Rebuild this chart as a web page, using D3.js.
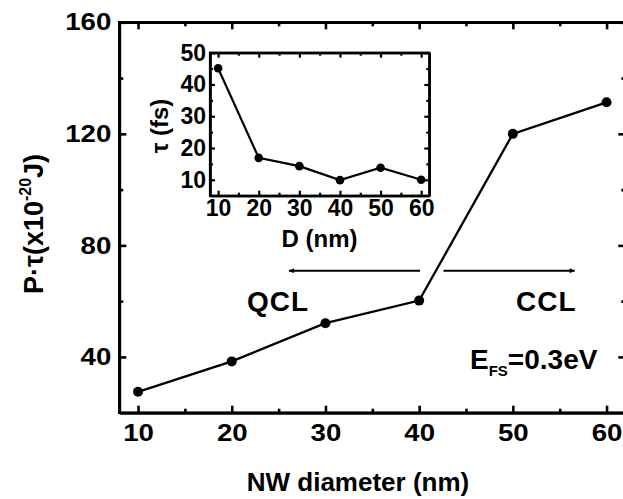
<!doctype html>
<html lang="en">
<head>
  <meta charset="utf-8">
  <style>
    body { margin: 0; background-color: white; }
    svg { display: block; background-color: white; }
    text { font-family: "Liberation Sans", Arial, sans-serif; font-weight: bold; fill: black; }
    .axis path, .axis line { stroke: black; }
    .axis text { font-family: "Liberation Sans", Arial, sans-serif; font-weight: bold; }
  </style>
</head>
<body>
<script src="https://d3js.org/d3.v7.min.js"></script>
<script>
var width = 623,
    height = 499;

// main plot: P*tau vs NW diameter
var diameters = [10, 20, 30, 40, 50, 60];
var ptau = [27.5, 38.4, 52.1, 60.2, 120, 131.3];
var xTicks = [10, 20, 30, 40, 50, 60];
var xMinor = [15, 25, 35, 45, 55];
var yTicks = [40, 80, 120, 160];
var yMinor = [60, 100, 140];

// inset: tau vs D
var insetD = [10, 20, 30, 40, 50, 60];
var tau = [45.1, 16.9, 14.3, 9.9, 13.8, 10];
var insetXTicks = [10, 20, 30, 40, 50, 60];
var insetXMinor = [15, 25, 35, 45, 55];
var insetYTicks = [10, 20, 30, 40, 50];
var insetYMinor = [15, 25, 35, 45];

var svg = d3.select("body").append("svg")
  .attr("width", width)
  .attr("height", height);

var x = d3.scaleLinear().domain([8, 62]).range([119.3, 625.3]);
var y = d3.scaleLinear().domain([20, 160]).range([412.7, 22.3]);

var main = svg.append("g");

function drawAxes(g, xs, ys, opt) {
  var x0 = xs.range()[0], x1 = xs.range()[1];
  var y0 = ys.range()[0], y1 = ys.range()[1];
  // minor ticks first
  g.append("g").attr("class", "axis").attr("transform", "translate(0," + y0 + ")")
    .call(d3.axisBottom(xs).tickValues(opt.xMinor).tickSize(-opt.minor).tickSizeOuter(0).tickFormat(""));
  g.append("g").attr("class", "axis").attr("transform", "translate(0," + y1 + ")")
    .call(d3.axisTop(xs).tickValues(opt.xMinor).tickSize(-opt.minor).tickSizeOuter(0).tickFormat(""));
  g.append("g").attr("class", "axis").attr("transform", "translate(" + x0 + ",0)")
    .call(d3.axisLeft(ys).tickValues(opt.yMinor).tickSize(-opt.minor).tickSizeOuter(0).tickFormat(""));
  g.append("g").attr("class", "axis").attr("transform", "translate(" + x1 + ",0)")
    .call(d3.axisRight(ys).tickValues(opt.yMinor).tickSize(-opt.minor).tickSizeOuter(0).tickFormat(""));
  // majors
  var bx = g.append("g").attr("class", "axis").attr("transform", "translate(0," + y0 + ")")
    .call(d3.axisBottom(xs).tickValues(opt.xTicks).tickSize(-opt.major).tickSizeOuter(0).tickPadding(opt.xPad).tickFormat(d3.format("d")));
  g.append("g").attr("class", "axis").attr("transform", "translate(0," + y1 + ")")
    .call(d3.axisTop(xs).tickValues(opt.xTicks).tickSize(-opt.major).tickSizeOuter(0).tickFormat(""));
  var ly = g.append("g").attr("class", "axis").attr("transform", "translate(" + x0 + ",0)")
    .call(d3.axisLeft(ys).tickValues(opt.yTicks).tickSize(-opt.major).tickSizeOuter(0).tickPadding(opt.yPad).tickFormat(d3.format("d")));
  g.append("g").attr("class", "axis").attr("transform", "translate(" + x1 + ",0)")
    .call(d3.axisRight(ys).tickValues(opt.yTicks).tickSize(-opt.major).tickSizeOuter(0).tickFormat(""));
  g.selectAll(".axis line").attr("stroke-width", opt.sw);
  g.selectAll(".axis path").attr("stroke-width", opt.sw);
  // the original lettering is a little wider than Liberation Sans
  bx.selectAll("text").style("font-size", opt.font + "px").attr("transform", "scale(" + opt.stretch + ",1)");
  ly.selectAll("text").style("font-size", opt.font + "px").attr("transform", "scale(" + opt.stretch + ",1)");
  // frame drawn on top
  g.append("rect")
    .attr("x", x0).attr("y", y1)
    .attr("width", x1 - x0).attr("height", y0 - y1)
    .attr("fill", "none").attr("stroke", "black").attr("stroke-width", opt.sw);
}

drawAxes(main, x, y, {
  xTicks: xTicks, xMinor: xMinor, yTicks: yTicks, yMinor: yMinor,
  major: 7, minor: 4, sw: 2.6, xPad: 11, yPad: 7, font: 24, stretch: 1.15
});

// main series
var line = d3.line()
  .x(function(d, i) { return x(diameters[i]); })
  .y(function(d) { return y(d); });

main.append("path")
  .datum(ptau)
  .attr("d", line)
  .attr("fill", "none")
  .attr("stroke", "black")
  .attr("stroke-width", 2.3);

main.selectAll(".pt")
  .data(ptau)
  .enter().append("circle")
  .attr("class", "pt")
  .attr("cx", function(d, i) { return x(diameters[i]); })
  .attr("cy", function(d) { return y(d); })
  .attr("r", 5)
  .attr("fill", "black");

// arrows
var defs = svg.append("defs");
defs.append("marker")
  .attr("id", "head")
  .attr("viewBox", "0 0 10 10")
  .attr("refX", 10).attr("refY", 5)
  .attr("markerWidth", 10).attr("markerHeight", 5)
  .attr("markerUnits", "userSpaceOnUse")
  .attr("orient", "auto")
  .append("path").attr("d", "M0,0L10,5L0,10Z").attr("fill", "black");

var arrowY = 70.9;
main.append("line")
  .attr("x1", x(40.1)).attr("x2", x(26.1))
  .attr("y1", y(arrowY)).attr("y2", y(arrowY))
  .attr("stroke", "black").attr("stroke-width", 2.2)
  .attr("marker-end", "url(#head)");
main.append("line")
  .attr("x1", x(42.6)).attr("x2", x(56.6))
  .attr("y1", y(arrowY)).attr("y2", y(arrowY))
  .attr("stroke", "black").attr("stroke-width", 2.2)
  .attr("marker-end", "url(#head)");

svg.append("text").attr("x", 247).attr("y", 311)
  .style("font-size", "28px").style("letter-spacing", "1px").text("QCL");
svg.append("text").attr("x", 516).attr("y", 311)
  .style("font-size", "28px").style("letter-spacing", "1px").text("CCL");

var ef = svg.append("text").attr("x", 470).attr("y", 369).style("font-size", "28px");
ef.append("tspan").text("E");
ef.append("tspan").attr("dy", 7).style("font-size", "15px").text("FS");
ef.append("tspan").attr("dy", -7).text("=0.3eV");

// axis titles
svg.append("text")
  .attr("x", 358).attr("y", 491)
  .attr("text-anchor", "middle")
  .style("font-size", "26px")
  .text("NW diameter (nm)");

var yl = svg.append("text")
  .attr("transform", "translate(43,224) rotate(-90)")
  .attr("text-anchor", "middle")
  .style("font-size", "27px");
yl.append("tspan").text("P·τ(x10");
yl.append("tspan").attr("dy", -12).style("font-size", "16px").text("-20");
yl.append("tspan").attr("dy", 12).text("J)");

// inset
var ix = d3.scaleLinear().domain([8, 62]).range([210, 429.3]);
var iy = d3.scaleLinear().domain([5, 50]).range([195.7, 52.7]);
var inset = svg.append("g");

inset.append("rect")
  .attr("x", 210).attr("y", 52.7)
  .attr("width", 219.3).attr("height", 143)
  .attr("fill", "white");

drawAxes(inset, ix, iy, {
  xTicks: insetXTicks, xMinor: insetXMinor, yTicks: insetYTicks, yMinor: insetYMinor,
  major: 5, minor: 3, sw: 2.2, xPad: 4, yPad: 4, font: 23, stretch: 1
});

var iline = d3.line()
  .x(function(d, i) { return ix(insetD[i]); })
  .y(function(d) { return iy(d); });

inset.append("path")
  .datum(tau)
  .attr("d", iline)
  .attr("fill", "none")
  .attr("stroke", "black")
  .attr("stroke-width", 2.2);

inset.selectAll(".ipt")
  .data(tau)
  .enter().append("circle")
  .attr("class", "ipt")
  .attr("cx", function(d, i) { return ix(insetD[i]); })
  .attr("cy", function(d) { return iy(d); })
  .attr("r", 4.3)
  .attr("fill", "black");

svg.append("text")
  .attr("x", 319.5).attr("y", 247)
  .attr("text-anchor", "middle")
  .style("font-size", "24px")
  .text("D (nm)");

svg.append("text")
  .attr("transform", "translate(168,126) rotate(-90)")
  .attr("text-anchor", "middle")
  .style("font-size", "24px")
  .text("τ (fs)");
</script>
</body>
</html>
